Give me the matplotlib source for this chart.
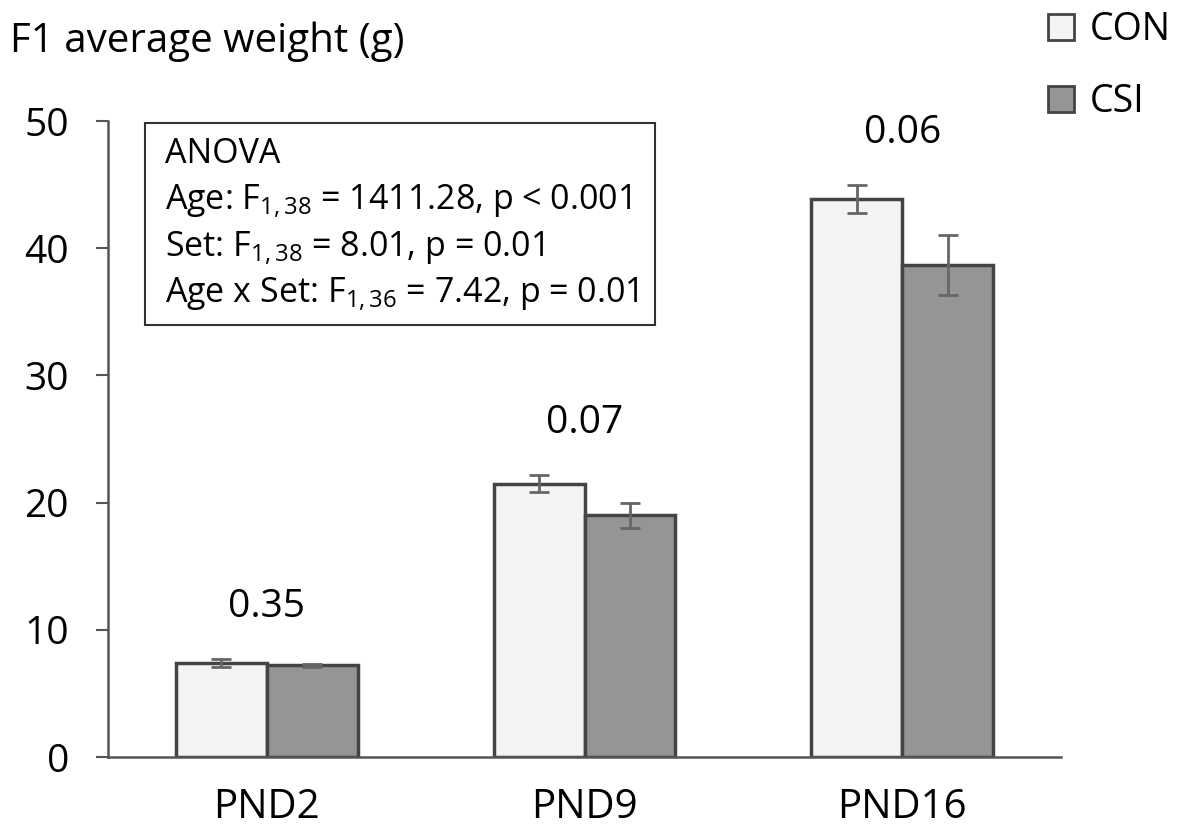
import matplotlib
matplotlib.use("Agg")
import matplotlib.pyplot as plt
from matplotlib.patches import Patch, Rectangle
import numpy as np

# ---- data ----
categories = ["PND2", "PND9", "PND16"]
con_mean = [7.4, 21.5, 43.9]
con_err = [0.3, 0.7, 1.1]
csi_mean = [7.2, 19.0, 38.7]
csi_err = [0.1, 1.0, 2.35]
p_values = ["0.35", "0.07", "0.06"]
series_names = ["CON", "CSI"]
anova_lines = [
    "ANOVA",
    r"Age: F$_{\mathrm{1,38}}$ = 1411.28, p < 0.001",
    r"Set: F$_{\mathrm{1,38}}$ = 8.01, p = 0.01",
    r"Age x Set: F$_{\mathrm{1,36}}$ = 7.42, p = 0.01",
]
y_ticks = [0, 10, 20, 30, 40, 50]

plt.rcParams['font.family'] = ['Open Sans', 'DejaVu Sans']
plt.rcParams['mathtext.fontset'] = 'custom'
plt.rcParams['mathtext.rm'] = 'Open Sans'
plt.rcParams['mathtext.it'] = 'Open Sans:italic'
plt.rcParams['mathtext.bf'] = 'Open Sans:bold'

W, H = 1181, 836
fig = plt.figure(figsize=(W / 100, H / 100), dpi=100)
ax = fig.add_axes([108 / W, 1 - 757 / H, (1061 - 108) / W, (757 - 121) / H])

x = np.arange(len(categories))
bw = 0.286
con_color = "#f4f4f4"
csi_color = "#959595"
edge = "#444444"
ecol = "#666666"

ax.bar(x - bw / 2, con_mean, bw, color=con_color, edgecolor=edge, linewidth=2.5,
       yerr=con_err, error_kw=dict(ecolor=ecol, elinewidth=2, capsize=7, capthick=2), zorder=2)
ax.bar(x + bw / 2, csi_mean, bw, color=csi_color, edgecolor=edge, linewidth=2.5,
       yerr=csi_err, error_kw=dict(ecolor=ecol, elinewidth=2, capsize=7, capthick=2), zorder=2)

# p-value labels above groups
for xi, cm, ce, cs, se, p in zip(x, con_mean, con_err, csi_mean, csi_err, p_values):
    top = max(cm + ce, cs + se)
    ax.text(xi, top + 3.3, p, ha="center", va="baseline", fontsize=28)

ax.set_xlim(-0.5, 2.5)
ax.set_ylim(0, 50)
ax.set_yticks(y_ticks)
ax.set_xticks(x)
ax.set_xticklabels(categories)
ax.tick_params(axis="y", length=9, width=1.5, color="#555555", labelsize=28, pad=19)
ax.tick_params(axis="x", length=0, labelsize=29, pad=22)
for s in ["top", "right"]:
    ax.spines[s].set_visible(False)
for s in ["left", "bottom"]:
    ax.spines[s].set_color("#555555")
    ax.spines[s].set_linewidth(1.8)

# ANOVA box
bx0, bx1 = (145 - 108) / 953, (655 - 108) / 953
by0, by1 = (757 - 325) / 636, (757 - 123) / 636
ax.add_patch(Rectangle((bx0, by0), bx1 - bx0, by1 - by0, transform=ax.transAxes,
                       facecolor="white", edgecolor="#333333", linewidth=1.5, zorder=3))
baselines = [163, 209, 256, 302]
for line, yb in zip(anova_lines, baselines):
    ax.text((165 - 108) / 953, (757 - yb) / 636, line, transform=ax.transAxes,
            ha="left", va="baseline", fontsize=24.5, zorder=4)

# title
fig.text(10 / W, 1 - 52 / H, "F1 average weight (g)", ha="left", va="baseline", fontsize=29)

# legend
handles = [Patch(facecolor=con_color, edgecolor=edge, linewidth=2),
           Patch(facecolor=csi_color, edgecolor=edge, linewidth=2)]
fig.legend(handles, series_names, loc="upper left", bbox_to_anchor=(1033 / W, 1 + 4 / H),
           frameon=False, fontsize=27, handlelength=0.7, handleheight=0.7,
           handletextpad=0.4, labelspacing=0.9, borderaxespad=0)

fig.savefig("out.png", dpi=100)
